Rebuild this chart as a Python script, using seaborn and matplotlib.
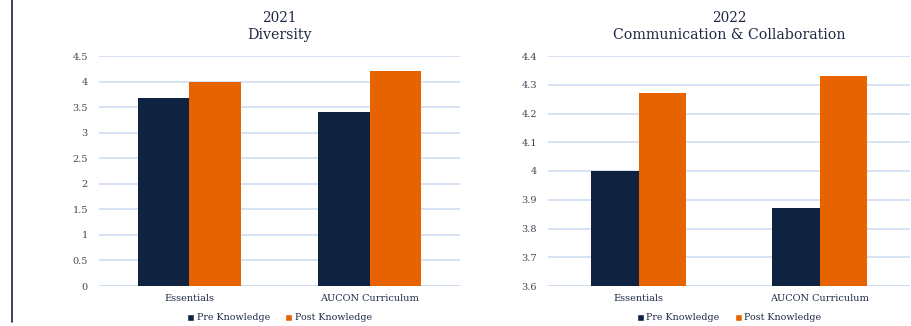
import matplotlib
matplotlib.use("Agg")
import matplotlib.pyplot as plt
import seaborn as sns
import pandas as pd
from matplotlib.lines import Line2D
from matplotlib.patches import Patch

categories = ["Essentials", "AUCON Curriculum"]
series = ["Pre Knowledge", "Post Knowledge"]
div_pre = [3.67, 3.40]
div_post = [4.00, 4.21]
comm_pre = [4.00, 3.87]
comm_post = [4.27, 4.33]
div_ticks = [0, 0.5, 1, 1.5, 2, 2.5, 3, 3.5, 4, 4.5]
div_labels = ["0", "0.5", "1", "1.5", "2", "2.5", "3", "3.5", "4", "4.5"]
comm_ticks = [3.6, 3.7, 3.8, 3.9, 4.0, 4.1, 4.2, 4.3, 4.4]
comm_labels = ["3.6", "3.7", "3.8", "3.9", "4", "4.1", "4.2", "4.3", "4.4"]

NAVY = "#0f2341"
ORANGE = "#e66300"
GRID = "#cfddf0"
TXT = "#1f2b45"
TICK = "#3f4656"

sns.set_theme(style="white")
plt.rcParams["font.family"] = ["DejaVu Serif"]

def make_df(pre, post):
    rows = []
    for c, v in zip(categories, pre):
        rows.append({"cat": c, "series": series[0], "val": v})
    for c, v in zip(categories, post):
        rows.append({"cat": c, "series": series[1], "val": v})
    return pd.DataFrame(rows)

fig = plt.figure(figsize=(9.11, 3.26), dpi=100)
ax1 = fig.add_axes([99 / 911, 1 - 286 / 326, (460 - 99) / 911, 230 / 326])
ax2 = fig.add_axes([548 / 911, 1 - 286 / 326, (910 - 548) / 911, 230 / 326])

specs = [
    (ax1, make_df(div_pre, div_post), (0, 4.5), div_ticks, div_labels, "2021", "Diversity", 0.57),
    (ax2, make_df(comm_pre, comm_post), (3.6, 4.4), comm_ticks, comm_labels, "2022", "Communication & Collaboration", 0.53),
]

for ax, df, ylim, ticks, labels, t1, t2, w in specs:
    sns.barplot(data=df, x="cat", y="val", hue="series", palette=[NAVY, ORANGE],
                width=w, ax=ax, legend=False, saturation=1, edgecolor="none",
                linewidth=0)
    ax.set_ylim(*ylim)
    ax.set_xlim(-0.5, 1.5)
    ax.set_yticks(ticks)
    ax.set_yticklabels(labels, fontsize=7, color=TICK)
    ax.set_xlabel("")
    ax.set_ylabel("")
    ax.tick_params(axis="x", labelsize=7, colors=TXT, length=0, pad=6)
    ax.tick_params(axis="y", length=0, pad=8)
    ax.yaxis.grid(True, color=GRID, linewidth=1.2)
    ax.set_axisbelow(True)
    for s in ax.spines.values():
        s.set_visible(False)
    ax.axhline(ylim[0], color=GRID, linewidth=1.5, zorder=0.5)
    ax.text(0.5, 1 + 38 / 230, t1, transform=ax.transAxes, ha="center",
            va="center", fontsize=9.8, color=TXT)
    ax.text(0.5, 1 + 21 / 230, t2, transform=ax.transAxes, ha="center",
            va="center", fontsize=10.2, color=TXT)
    handles = [Patch(facecolor=NAVY, label=series[0]), Patch(facecolor=ORANGE, label=series[1])]
    leg = ax.legend(handles=handles, loc="center", bbox_to_anchor=(0.5, -32 / 230),
                    ncol=2, frameon=False, fontsize=6.8, handlelength=0.75,
                    handleheight=0.75, handletextpad=0.25, columnspacing=1.6)
    for t in leg.get_texts():
        t.set_color(TXT)

fig.add_artist(Line2D([12 / 911, 12 / 911], [1 - 322 / 326, 1.0],
                      transform=fig.transFigure, color="#1a2540", linewidth=1.2))

fig.savefig("out.png", dpi=100)
